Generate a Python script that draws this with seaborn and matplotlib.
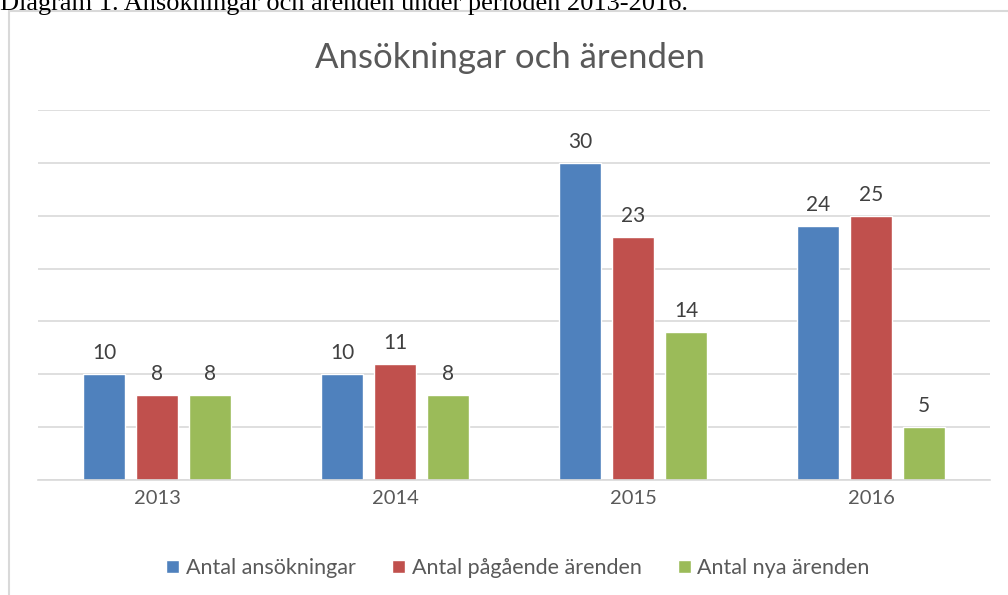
import matplotlib
matplotlib.use("Agg")
import matplotlib.pyplot as plt
import seaborn as sns
import pandas as pd
from matplotlib.patches import Rectangle

years = ["2013", "2014", "2015", "2016"]
series_names = ["Antal ansökningar", "Antal pågående ärenden", "Antal nya ärenden"]
ansokningar = [10, 10, 30, 24]
pagaende = [8, 11, 23, 25]
nya = [8, 8, 14, 5]
colors = ["#4F81BD", "#C0504D", "#9BBB59"]

rows = []
for name, vals in zip(series_names, [ansokningar, pagaende, nya]):
    for y, v in zip(years, vals):
        rows.append({"year": y, "series": name, "value": v})
df = pd.DataFrame(rows)

sns.set_theme(style="white")
plt.rcParams["font.family"] = ["Lato", "DejaVu Sans"]

fig = plt.figure(figsize=(10.08, 5.95), dpi=100)
ax = fig.add_axes([38/1008, 1-480/595, 952/1008, 370/595])

sns.barplot(data=df, x="year", y="value", hue="series", order=years,
            hue_order=series_names, palette=colors, width=0.668, gap=0.2,
            saturation=1, ax=ax, legend=True)

ax.set_xlim(-0.5, 3.5)
ax.set_ylim(0, 35)
ax.set_yticks(range(0, 36, 5))
ax.set_yticklabels([])
ax.tick_params(axis="y", length=0)
ax.tick_params(axis="x", length=0, labelsize=14.5, labelcolor="#595959", pad=7)
ax.grid(axis="y", color="#d9d9d9", linewidth=1.2)
ax.set_axisbelow(True)
for s in ["top", "left", "right"]:
    ax.spines[s].set_visible(False)
ax.spines["bottom"].set_color("#d9d9d9")
ax.spines["bottom"].set_linewidth(1.2)
ax.set_xlabel("")
ax.set_ylabel("")

for cont in ax.containers:
    ax.bar_label(cont, padding=8, fontsize=15, color="#404040")

fig.text(510/1008, 1-58/595, "Ansökningar och ärenden", fontsize=25,
         color="#595959", ha="center", va="center")

handles, labels = ax.get_legend_handles_labels()
ax.legend_.remove()
fig.legend(handles, labels, loc="center", bbox_to_anchor=(518/1008, 1-568/595),
           ncol=3, frameon=False, fontsize=15.5, labelcolor="#595959",
           handlelength=0.6, handleheight=0.6, handletextpad=0.3, columnspacing=1.7)

fig.text(0.0, 1-10/595, "Diagram 1. Ansökningar och ärenden under perioden 2013-2016.",
         family="Liberation Serif", fontsize=19, color="black", ha="left", va="baseline")

fig.patches.append(Rectangle((9/1008, -0.1), 1.2, 1.1 - 11/595, transform=fig.transFigure,
                             fill=False, edgecolor="#d9d9d9", linewidth=1.5))

fig.savefig("out.png", dpi=100, facecolor="white")
